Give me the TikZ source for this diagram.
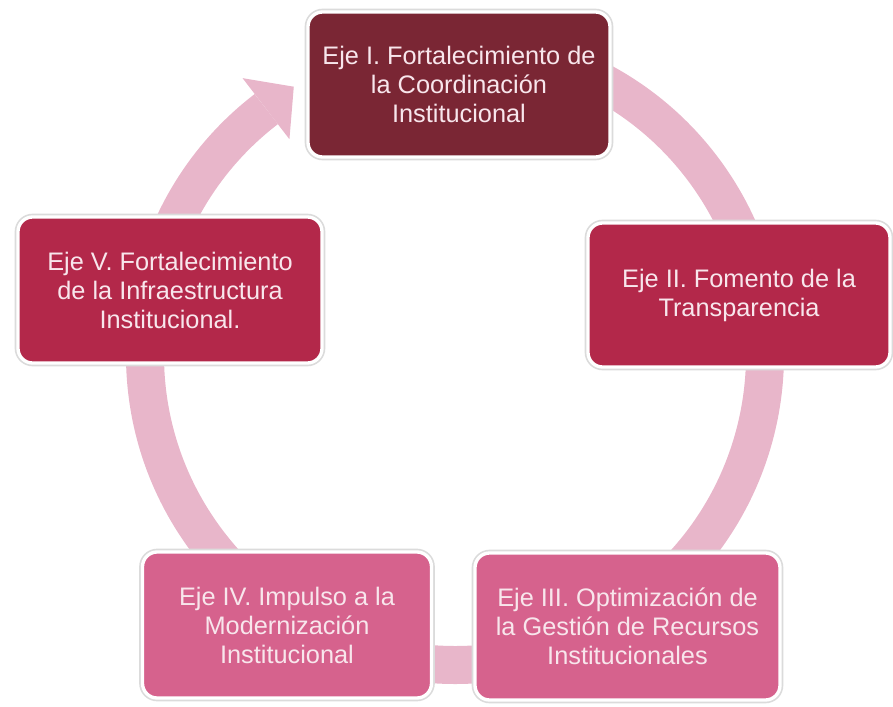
\documentclass[tikz,border=0pt]{standalone}
\usepackage{fontspec}
\setmainfont{Liberation Sans}
\usetikzlibrary{calc}
\definecolor{ejeVino}{HTML}{7A2634}
\definecolor{ejeRojo}{HTML}{B3284A}
\definecolor{ejeRosa}{HTML}{D6628D}
\definecolor{anillo}{HTML}{E8B6CA}
\definecolor{textoClaro}{HTML}{F8E6EC}
\tikzset{
  every node/.append style={font=\fontsize{19}{21.75}\selectfont},
}
\tikzset{
  eje/.style={rounded corners=11pt, align=center, inner sep=4pt, text=textoClaro,
    draw=white, line width=2.5pt, preaction={draw=black!14, line width=5pt}},
  ring/.style={draw=anillo, line width=28.5pt}
}

\begin{document}
\begin{tikzpicture}[
  x=0.75pt, y=0.75pt,
  cVino/.style={eje, fill=ejeVino},
  cRojo/.style={eje, fill=ejeRojo},
  cRosa/.style={eje, fill=ejeRosa}
]
\useasboundingbox (0,0) rectangle (893,-707);

\coordinate (hub) at (455,-355);

% ring with the arrow into Eje I
\begin{scope}[shift={(hub)}]
  \draw[ring] (127.5:310) arc[start angle=127.5, end angle=465, radius=310];
  \fill[anillo] (127.5:349) -- (121:313) -- (127.5:272) -- cycle;
\end{scope}

\node[cVino, minimum width=226.5pt, minimum height=108.75pt] (ejeI) at (459,-84.5)
  {Eje I. Fortalecimiento de\\la Coordinación\\Institucional};
\node[cRojo, minimum width=226.5pt, minimum height=108pt] (ejeII) at (739,-295)
  {Eje II. Fomento de la\\Transparencia};
\node[cRosa, minimum width=228.75pt, minimum height=110.25pt] (ejeIII) at (627.5,-626.5)
  {Eje III. Optimización de\\la Gestión de Recursos\\Institucionales};
\node[cRosa, minimum width=216.75pt, minimum height=109.5pt] (ejeIV) at (287,-625)
  {Eje IV. Impulso a la\\Modernización\\Institucional};
\node[cRojo, minimum width=228pt, minimum height=109.5pt] (ejeV) at (170,-290)
  {Eje V. Fortalecimiento\\de la Infraestructura\\Institucional.};

\end{tikzpicture}
\end{document}
